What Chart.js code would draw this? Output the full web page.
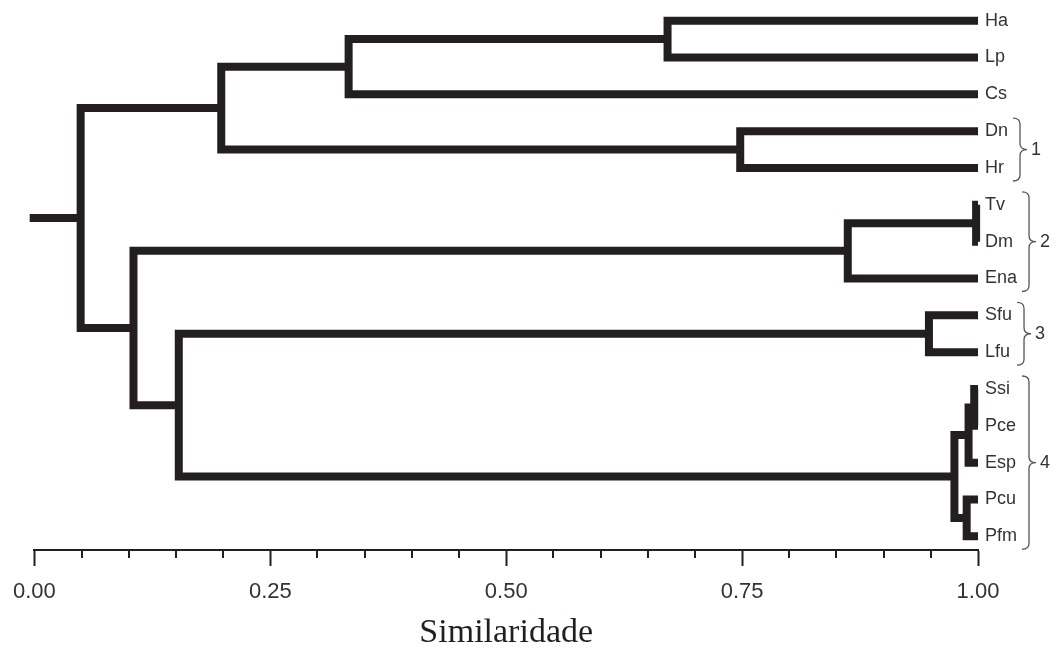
<!DOCTYPE html>
<html>
<head>
<meta charset="utf-8">
<script src="https://cdn.jsdelivr.net/npm/chart.js@4.4.1/dist/chart.umd.min.js"></script>
<style>
  body { margin: 0; background: #fff; }
  #wrap { width: 1058px; height: 657px; }
</style>
</head>
<body>
<div id="wrap"><canvas id="dendro"></canvas></div>
<script>
// leaves, top to bottom
const leafNames = ['Ha', 'Lp', 'Cs', 'Dn', 'Hr', 'Tv', 'Dm', 'Ena', 'Sfu', 'Lfu', 'Ssi', 'Pce', 'Esp', 'Pcu', 'Pfm'];

// merges, node ids continue after the leaves (15, 16, ...)
const mergeLeft  = [0, 15, 3, 16, 5, 19, 8, 10, 22, 13, 23, 21, 20, 18];
const mergeRight = [1, 2, 4, 17, 6, 7, 9, 11, 12, 14, 24, 25, 26, 27];
const mergeSimilarity = [0.671, 0.333, 0.748, 0.198, 0.998, 0.862, 0.948, 0.996, 0.990, 0.988, 0.975, 0.153, 0.105, 0.049];
const rootStart = -0.005;

// bracketed groups on the right
const groupNames = ['1', '2', '3', '4'];
const groupFirst = [3, 5, 8, 10];
const groupLast  = [4, 7, 9, 14];

const tickStep = 0.05;
const majorStep = 0.25;

const ink = '#231f20';
const isMajor = v => Math.abs(v / majorStep - Math.round(v / majorStep)) < 1e-6;

// --- build the segments of the tree ---
const nodeX = leafNames.map(() => 1);
const nodeY = leafNames.map((n, i) => i);
const datasets = [];

mergeSimilarity.forEach((h, i) => {
    const a = mergeLeft[i], b = mergeRight[i];
    datasets.push({
        data: [
            { x: nodeX[a], y: nodeY[a] },
            { x: h, y: nodeY[a] },
            { x: h, y: nodeY[b] },
            { x: nodeX[b], y: nodeY[b] }
        ]
    });
    nodeX.push(h);
    nodeY.push((nodeY[a] + nodeY[b]) / 2);
});

const rootId = nodeX.length - 1;
datasets.push({ data: [{ x: rootStart, y: nodeY[rootId] }, { x: nodeX[rootId], y: nodeY[rootId] }] });

datasets.forEach(ds => {
    Object.assign(ds, {
        showLine: true,
        borderColor: ink,
        borderWidth: 8,
        borderJoinStyle: 'miter',
        borderCapStyle: 'butt',
        pointRadius: 0,
        clip: false
    });
});

// labels, minor ticks and braces
const dendroDecor = {
    id: 'dendroDecor',
    afterDraw(chart) {
        const { ctx, scales: { x, y } } = chart;
        ctx.save();

        // minor ticks
        ctx.strokeStyle = ink;
        ctx.lineWidth = 2;
        x.ticks.forEach(t => {
            if (isMajor(t.value)) return;
            const px = Math.round(x.getPixelForValue(t.value));
            ctx.beginPath();
            ctx.moveTo(px, x.top);
            ctx.lineTo(px, x.top + 8);
            ctx.stroke();
        });

        // leaf names
        ctx.font = '18px "Liberation Sans", Arial, sans-serif';
        ctx.fillStyle = '#333';
        ctx.textBaseline = 'middle';
        ctx.textAlign = 'left';
        const labelX = x.getPixelForValue(1) + 7;
        leafNames.forEach((name, i) => ctx.fillText(name, labelX, y.getPixelForValue(i)));

        // braces
        ctx.strokeStyle = '#555';
        ctx.lineWidth = 1.3;
        groupNames.forEach((g, i) => {
            let widest = 0;
            for (let k = groupFirst[i]; k <= groupLast[i]; k++) {
                widest = Math.max(widest, ctx.measureText(leafNames[k]).width);
            }
            const x0 = labelX + widest + 5;
            const y1 = y.getPixelForValue(groupFirst[i]) - 13;
            const y2 = y.getPixelForValue(groupLast[i]) + 13;
            const ym = (y1 + y2) / 2;
            const w = 14, r = 6, xm = x0 + w / 2;
            ctx.beginPath();
            ctx.moveTo(x0, y1);
            ctx.quadraticCurveTo(xm, y1, xm, y1 + r);
            ctx.lineTo(xm, ym - r);
            ctx.quadraticCurveTo(xm, ym, x0 + w, ym);
            ctx.quadraticCurveTo(xm, ym, xm, ym + r);
            ctx.lineTo(xm, y2 - r);
            ctx.quadraticCurveTo(xm, y2, x0, y2);
            ctx.stroke();
            ctx.fillText(g, x0 + w + 4, ym);
        });

        ctx.restore();
    }
};

new Chart(document.getElementById('dendro'), {
    type: 'scatter',
    data: { datasets: datasets },
    options: {
        responsive: true,
        maintainAspectRatio: false,
        animation: false,
        layout: { padding: { left: 33, right: 80, top: 0, bottom: 0 } },
        plugins: {
            legend: { display: false },
            tooltip: { enabled: false }
        },
        scales: {
            x: {
                type: 'linear',
                min: 0,
                max: 1,
                afterFit: scale => { scale.height = 107; },
                grid: {
                    display: true,
                    drawOnChartArea: false,
                    drawTicks: true,
                    tickLength: 16,
                    tickWidth: 2,
                    tickColor: c => (c.tick && isMajor(c.tick.value)) ? ink : 'rgba(0,0,0,0)'
                },
                border: { display: true, color: ink, width: 2 },
                ticks: {
                    stepSize: tickStep,
                    autoSkip: false,
                    maxRotation: 0,
                    padding: 13,
                    color: '#333',
                    font: { family: '"Liberation Sans", Arial, sans-serif', size: 22 },
                    callback: v => isMajor(v) ? v.toFixed(2) : ''
                },
                title: {
                    display: true,
                    text: 'Similaridade',
                    color: ink,
                    font: { family: '"Liberation Serif", "Times New Roman", serif', size: 34 },
                    padding: { top: 0, bottom: 4 }
                }
            },
            y: {
                type: 'linear',
                reverse: true,
                min: -0.56,
                max: 14.37,
                display: false
            }
        }
    },
    plugins: [dendroDecor]
});
</script>
</body>
</html>
